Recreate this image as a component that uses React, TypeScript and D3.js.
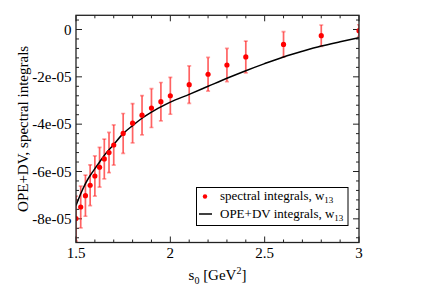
import React from "react";
import * as d3 from "d3";

// spectral integrals (w13) with errors, in units of 1e-5
const s0Points = [1.5, 1.525, 1.55, 1.575, 1.6, 1.625, 1.65, 1.675, 1.7, 1.75, 1.8, 1.85, 1.9, 1.95, 2.0, 2.1, 2.2, 2.3, 2.4, 2.6, 2.8, 3.0];
const spectralValues = [-7.99, -7.50, -7.02, -6.58, -6.19, -5.82, -5.47, -5.20, -4.88, -4.39, -3.96, -3.62, -3.32, -3.05, -2.80, -2.33, -1.89, -1.50, -1.16, -0.63, -0.26, -0.05];
const spectralErrors = [0.95, 0.88, 0.87, 0.86, 0.85, 0.84, 0.84, 0.85, 0.85, 0.84, 0.83, 0.83, 0.82, 0.81, 0.78, 0.79, 0.71, 0.70, 0.67, 0.54, 0.45, 0.25];

// OPE+DV curve, units of 1e-5
const s0Curve = [1.5, 1.525, 1.55, 1.575, 1.6, 1.625, 1.65, 1.7, 1.75, 1.8, 1.85, 1.9, 1.95, 2.0, 2.1, 2.2, 2.3, 2.4, 2.5, 2.6, 2.7, 2.8, 2.9, 3.0];
const opeValues = [-7.44, -6.94, -6.51, -6.17, -5.88, -5.60, -5.32, -4.86, -4.40, -4.06, -3.75, -3.49, -3.27, -3.07, -2.74, -2.40, -2.06, -1.74, -1.44, -1.16, -0.92, -0.70, -0.52, -0.35];

const xTickValues = [1.5, 2, 2.5, 3];
const xTickLabels = ["1.5", "2", "2.5", "3"];
const yTickValues = [-8, -6, -4, -2, 0];
const yTickLabels = ["-8e-05", "-6e-05", "-4e-05", "-2e-05", "0"];

const W = 431;
const H = 304;
const serif = "'Liberation Serif', 'Times New Roman', serif";

export default function App() {
  const x = d3.scaleLinear().domain([1.5, 3]).range([76, 359]);
  const y = d3.scaleLinear().domain([-9, 0.6]).range([242.5, 15.3]);

  const [x0, x1] = x.range();
  const [yb, yt] = y.range();

  const xMinor = d3.range(15, 31).map(d => d / 10).filter(d => !xTickValues.includes(d));
  const yMinor = d3.range(-22, 2).map(d => d * 0.4).filter(d => Math.abs(d % 2) > 1e-6);

  const line = d3.line<number>()
    .x((d, i) => x(s0Curve[i]))
    .y(d => y(d))
    .curve(d3.curveMonotoneX);

  const major = 6;
  const minor = 3;

  return (
    <svg width={W} height={H} style={{ position: "absolute", left: 0, top: 0 }} fontFamily={serif}>
      <defs>
        <clipPath id="plot">
          <rect x={x0} y={yt} width={x1 - x0} height={yb - yt} />
        </clipPath>
      </defs>
      <rect width={W} height={H} fill="white" />

      {/* ticks on all four sides */}
      <g stroke="#222" strokeWidth={1}>
        {xTickValues.map(v => (
          <g key={"xt" + v}>
            <line x1={x(v)} x2={x(v)} y1={yb} y2={yb - major} />
            <line x1={x(v)} x2={x(v)} y1={yt} y2={yt + major} />
          </g>
        ))}
        {xMinor.map(v => (
          <g key={"xm" + v}>
            <line x1={x(v)} x2={x(v)} y1={yb} y2={yb - minor} />
            <line x1={x(v)} x2={x(v)} y1={yt} y2={yt + minor} />
          </g>
        ))}
        {yTickValues.map(v => (
          <g key={"yt" + v}>
            <line x1={x0} x2={x0 + major} y1={y(v)} y2={y(v)} />
            <line x1={x1} x2={x1 - major} y1={y(v)} y2={y(v)} />
          </g>
        ))}
        {yMinor.map(v => (
          <g key={"ym" + v}>
            <line x1={x0} x2={x0 + minor} y1={y(v)} y2={y(v)} />
            <line x1={x1} x2={x1 - minor} y1={y(v)} y2={y(v)} />
          </g>
        ))}
      </g>

      <g clipPath="url(#plot)">
        {/* error bars */}
        <g stroke="#ff2020" strokeOpacity={0.7} strokeWidth={1.7}>
          {s0Points.map((s, i) => {
            const lo = y(spectralValues[i] - spectralErrors[i]);
            const hi = y(spectralValues[i] + spectralErrors[i]);
            return (
              <g key={"e" + i}>
                <line x1={x(s)} x2={x(s)} y1={lo} y2={hi} />
                <line x1={x(s) - 2} x2={x(s) + 2} y1={lo} y2={lo} strokeOpacity={0.45} />
                <line x1={x(s) - 2} x2={x(s) + 2} y1={hi} y2={hi} strokeOpacity={0.45} />
              </g>
            );
          })}
        </g>
        <path d={line(opeValues) || ""} fill="none" stroke="black" strokeWidth={1.5} />
        {s0Points.map((s, i) => (
          <circle key={"p" + i} cx={x(s)} cy={y(spectralValues[i])} r={2.6} fill="#ff0000" />
        ))}
      </g>

      {/* frame */}
      <rect x={x0} y={yt} width={x1 - x0} height={yb - yt} fill="none" stroke="#222" strokeWidth={1.3} />

      {/* tick labels */}
      <g fontSize={15} fill="black">
        {xTickValues.map((v, i) => (
          <text key={"xl" + v} x={x(v)} y={257.5} textAnchor="middle">{xTickLabels[i]}</text>
        ))}
        {yTickValues.map((v, i) => (
          <text key={"yl" + v} x={71.5} y={y(v) + 5} textAnchor="end">{yTickLabels[i]}</text>
        ))}
      </g>

      {/* axis titles */}
      <text x={(x0 + x1) / 2} y={280} textAnchor="middle" fontSize={15}>
        s<tspan fontSize={10} dy={4}>0</tspan><tspan dy={-4}> [GeV</tspan><tspan fontSize={10} dy={-6}>2</tspan><tspan dy={6}>]</tspan>
      </text>
      <text transform={`translate(28,${(yt + yb) / 2}) rotate(-90)`} textAnchor="middle" fontSize={15}>
        OPE+DV, spectral integrals
      </text>

      {/* legend */}
      <g>
        <rect x={196.5} y={187.5} width={151.5} height={38} fill="white" stroke="black" strokeWidth={1} />
        <circle cx={205} cy={196.5} r={2.2} fill="#ff0000" />
        <line x1={199} x2={212} y1={214} y2={214} stroke="black" strokeWidth={1.5} />
        <text x={220} y={200} fontSize={13}>
          spectral integrals, w<tspan fontSize={9} dy={3}>13</tspan>
        </text>
        <text x={220} y={218} fontSize={13}>
          OPE+DV integrals, w<tspan fontSize={9} dy={3}>13</tspan>
        </text>
      </g>
    </svg>
  );
}
